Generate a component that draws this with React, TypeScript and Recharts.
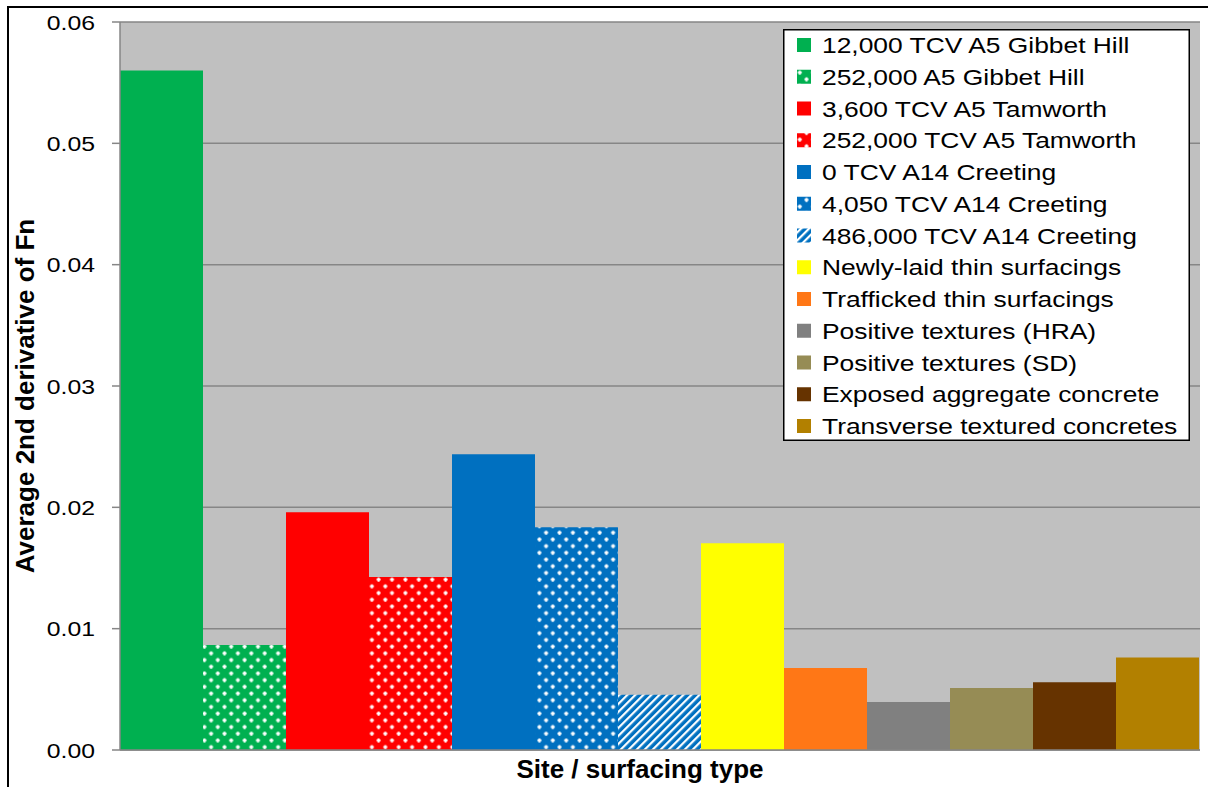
import { Bar, BarChart, CartesianGrid, Label, Legend, XAxis, YAxis } from 'recharts'

// ── Data ──

const SITES = [
  '12,000 TCV A5 Gibbet Hill',
  '252,000 A5 Gibbet Hill',
  '3,600 TCV A5 Tamworth',
  '252,000 TCV A5 Tamworth',
  '0 TCV A14 Creeting',
  '4,050 TCV A14 Creeting',
  '486,000 TCV A14 Creeting',
  'Newly-laid thin surfacings',
  'Trafficked thin surfacings',
  'Positive textures (HRA)',
  'Positive textures (SD)',
  'Exposed aggregate concrete',
  'Transverse textured concretes',
]

const AVG_2ND_DERIVATIVE = [
  0.056, 0.00865, 0.0196, 0.01425, 0.02437, 0.01835, 0.00455, 0.01703, 0.00676, 0.00396, 0.00511,
  0.00558, 0.00762,
]

const Y_TICKS = [0, 0.01, 0.02, 0.03, 0.04, 0.05, 0.06]

// fills per series (solid colour or svg pattern)
const SERIES_FILLS = [
  '#00b050',
  'url(#dotsGreen)',
  '#ff0000',
  'url(#dotsRed)',
  '#0070c0',
  'url(#dotsBlue)',
  'url(#stripesBlue)',
  '#ffff00',
  '#ff7716',
  '#808080',
  '#968c55',
  '#663300',
  '#b28000',
]

// ── Styles ──

const FONT = '"Liberation Sans", Arial, sans-serif'
const AXIS_GRAY = '#868686'
const PLOT_BG = '#c0c0c0'

const chartRow: Record<string, string | number> = { site: '' }
AVG_2ND_DERIVATIVE.forEach((v, i) => {
  chartRow[`s${i}`] = v
})
const chartData = [chartRow]

const DOT = 'M-1,-2h2v1h1v2h-1v1h-2v-1h-1v-2h1z'

function DotPattern({ id, color }: { id: string; color: string }) {
  return (
    <pattern height={13.4} id={id} patternUnits="userSpaceOnUse" width={13.4} x={0} y={0}>
      <rect fill={color} height={13.4} width={13.4} />
      <path d={DOT} fill="#ffffff" transform="translate(3.4,3.4)" />
      <path d={DOT} fill="#ffffff" transform="translate(10.1,10.1)" />
    </pattern>
  )
}

function YTick({ x, y, payload }: any) {
  return (
    <text
      dy="0.36em"
      fill="#000"
      fontFamily={FONT}
      fontSize={21}
      textAnchor="end"
      transform={`translate(${x},${y}) scale(1.18,1)`}
    >
      {Number(payload.value).toFixed(2)}
    </text>
  )
}

function LegendBox() {
  return (
    <svg height={412} style={{ display: 'block' }} width={407}>
      <rect fill="#ffffff" height={410.5} stroke="#000" strokeWidth={1.5} width={405.5} x={0.75} y={0.75} />
      {SITES.map((name, i) => (
        <g key={name}>
          <rect fill={SERIES_FILLS[i]} height={14} width={14} x={14} y={9 + i * 31.75} />
          <text
            fill="#000"
            fontFamily={FONT}
            fontSize={22}
            transform={`translate(39,${24 + i * 31.75}) scale(1.2,1)`}
          >
            {name}
          </text>
        </g>
      ))}
    </svg>
  )
}

export default function App() {
  return (
    <div
      style={{
        position: 'absolute',
        left: 0,
        top: 0,
        width: 1208,
        height: 787,
        background: '#ffffff',
        overflow: 'hidden',
      }}
    >
      {/* outer frame */}
      <div
        style={{
          position: 'absolute',
          left: 7,
          top: 6,
          width: 1201,
          height: 781,
          borderLeft: '2px solid #000',
          borderTop: '2px solid #000',
          boxSizing: 'border-box',
          pointerEvents: 'none',
        }}
      />
      <div style={{ position: 'absolute', left: 0, top: 0 }}>
        <BarChart
          barCategoryGap={0}
          barGap={0}
          data={chartData}
          height={787}
          margin={{ top: 22, right: 8, bottom: 0, left: 0 }}
          width={1208}
        >
          <defs>
            <DotPattern color="#00b050" id="dotsGreen" />
            <DotPattern color="#ff0000" id="dotsRed" />
            <DotPattern color="#0070c0" id="dotsBlue" />
            <pattern
              height={5.66}
              id="stripesBlue"
              patternTransform="rotate(45)"
              patternUnits="userSpaceOnUse"
              width={5.66}
            >
              <rect fill="#0070c0" height={5.66} width={5.66} />
              <rect fill="#ffffff" height={5.66} width={2.2} />
            </pattern>
          </defs>
          <CartesianGrid fill={PLOT_BG} stroke={AXIS_GRAY} strokeWidth={1.5} vertical={false} />
          <XAxis
            axisLine={{ stroke: AXIS_GRAY, strokeWidth: 1.5 }}
            dataKey="site"
            height={37}
            tick={false}
            tickLine={false}
          >
            <Label
              content={(props: any) => {
                const vb = props.viewBox || { x: 120, y: 750, width: 1080, height: 37 }
                return (
                  <text
                    fill="#000"
                    fontFamily={FONT}
                    fontSize={26}
                    fontWeight="bold"
                    textAnchor="middle"
                    x={vb.x + vb.width / 2 - 20}
                    y={vb.y + 28}
                  >
                    Site / surfacing type
                  </text>
                )
              }}
            />
          </XAxis>
          <YAxis
            axisLine={{ stroke: AXIS_GRAY, strokeWidth: 1.5 }}
            domain={[0, 0.06]}
            tick={<YTick />}
            tickLine={{ stroke: AXIS_GRAY, strokeWidth: 1.5 }}
            tickMargin={17}
            tickSize={8}
            ticks={Y_TICKS}
            type="number"
            width={120}
          >
            <Label
              content={(props: any) => {
                const vb = props.viewBox || { x: 0, y: 22, width: 120, height: 728 }
                const cy = vb.y + vb.height / 2 + 10
                return (
                  <text
                    dy="0.36em"
                    fill="#000"
                    fontFamily={FONT}
                    fontSize={26}
                    fontWeight="bold"
                    textAnchor="middle"
                    transform={`rotate(-90, ${vb.x + 25}, ${cy})`}
                    x={vb.x + 25}
                    y={cy}
                  >
                    Average 2nd derivative of Fn
                  </text>
                )
              }}
            />
          </YAxis>
          <Legend
            align="center"
            content={() => <LegendBox />}
            layout="horizontal"
            verticalAlign="middle"
            wrapperStyle={{ left: 783, top: 29, width: 407, height: 412 }}
          />
          {SITES.map((name, i) => (
            <Bar
              dataKey={`s${i}`}
              fill={SERIES_FILLS[i]}
              isAnimationActive={false}
              key={name}
              name={name}
            />
          ))}
        </BarChart>
      </div>
    </div>
  )
}
